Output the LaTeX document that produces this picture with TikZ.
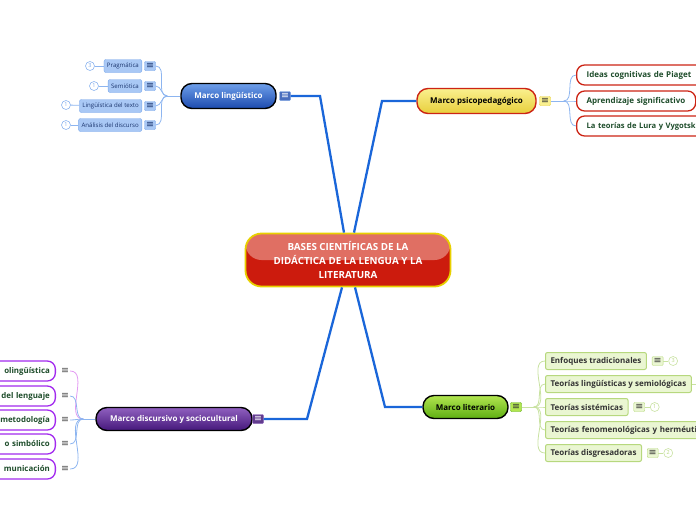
\documentclass[tikz,border=0pt]{standalone}
\usepackage{fontspec}
\setmainfont{Open Sans}
\newfontfamily\simbolos{DejaVu Sans}
\usetikzlibrary{positioning, calc}

% Colores del mapa
\definecolor{azulrama}{HTML}{1A66D9}
\definecolor{rojo}{HTML}{CC1B0D}
\definecolor{rojoclaro}{HTML}{E06F63}
\definecolor{amarillo}{HTML}{E8D000}
\definecolor{azulclaro}{HTML}{6E9FEA}
\definecolor{azuloscuro}{HTML}{1C4AAE}
\definecolor{azulsub}{HTML}{A9C8F5}
\definecolor{azulborde}{HTML}{78A6EA}
\definecolor{azultexto}{HTML}{1B356E}
\definecolor{azulfino}{HTML}{8DB5F0}
\definecolor{amarilloclaro}{HTML}{FAF08E}
\definecolor{amarillooscuro}{HTML}{E8CF3C}
\definecolor{rojoborde}{HTML}{CC2414}
\definecolor{verdetexto}{HTML}{1E4D2B}
\definecolor{moradoclaro}{HTML}{9060C0}
\definecolor{moradooscuro}{HTML}{45187A}
\definecolor{moradoborde}{HTML}{A22AEE}
\definecolor{rosafino}{HTML}{E39AF2}
\definecolor{verdeclaro}{HTML}{B2E650}
\definecolor{verdeoscuro}{HTML}{5EAE12}
\definecolor{verdesub}{HTML}{EAF6D2}
\definecolor{verdeborde}{HTML}{B7D87E}
\definecolor{verdefino}{HTML}{C9E2A2}
\definecolor{grisicono}{HTML}{4A4A4A}

\begin{document}
\begin{tikzpicture}[x=1pt, y=-1pt,
    rama/.style={draw=azulrama, line width=2.3pt},
    central/.style={rounded corners=16pt, draw=amarillo, line width=1.8pt, fill=rojo,
      text=white, align=center, minimum width=205pt, minimum height=53pt, inner sep=2pt,
      font=\bfseries\fontsize{9.8}{14}\selectfont,
      path picture={\fill[rojoclaro] (path picture bounding box.north west) rectangle (path picture bounding box.east);}},
    tema/.style={rounded corners=11pt, line width=1.4pt, minimum height=25pt, inner xsep=0pt,
      font=\bfseries\fontsize{8}{9}\selectfont},
    icono/.style={draw, rounded corners=1pt, minimum width=11pt, minimum height=9pt, inner sep=0pt,
      font=\simbolos\fontsize{9.5}{9}\selectfont},
    numero/.style={circle, draw, fill=white, minimum size=9pt, inner sep=0pt, line width=0.6pt,
      font=\fontsize{5.5}{5}\selectfont},
    subl/.style={draw=azulborde, fill=azulsub, rounded corners=2pt, minimum height=13pt,
      inner xsep=3pt, inner ysep=0pt, text=azultexto, font=\fontsize{6.1}{6}\selectfont, anchor=east},
    subp/.style={draw=rojoborde, fill=white, rounded corners=8pt, line width=1.3pt, minimum height=20pt,
      inner xsep=10pt, inner ysep=0pt, text=verdetexto, align=left, anchor=west,
      font=\bfseries\fontsize{8}{8}\selectfont},
    subd/.style={draw=moradoborde, fill=white, rounded corners=8pt, line width=1.3pt, minimum height=20pt,
      inner xsep=5.5pt, inner ysep=0pt, text=verdetexto, align=right, text width=80pt, anchor=east,
      font=\bfseries\fontsize{7.9}{8}\selectfont},
    subv/.style={draw=verdeborde, fill=verdesub, rounded corners=2pt, line width=1pt, minimum height=17pt,
      inner xsep=5pt, inner ysep=0pt, text=black!80, align=left, anchor=west,
      font=\bfseries\fontsize{8}{8}\selectfont},
    finol/.style={draw=azulfino, line width=0.8pt},
    finov/.style={draw=verdefino, line width=0.8pt},
  ]
  \useasboundingbox (0,0) rectangle (696,520);
  \clip (0,0) rectangle (696,520);

  % --- 1. TEMA CENTRAL ---
  \node[central] (bases) at (348,260) {BASES CIENTÍFICAS DE LA\\DIDÁCTICA DE LA LENGUA Y LA\\LITERATURA};

  % --- 2. TEMAS PRINCIPALES ---
  \node[tema, draw=black, top color=azulclaro, bottom color=azuloscuro, text=white, minimum width=95pt]
    (ling) at (228.5,96) {Marco lingüístico};
  \node[icono, draw=azulborde, fill=azuloscuro!80, text=white] (lingI) at (285,96) {≡};

  \node[tema, draw=rojoborde, top color=amarilloclaro, bottom color=amarillooscuro, text=black, minimum width=119pt]
    (psico) at (476.5,101) {Marco psicopedagógico};
  \node[icono, draw=amarillooscuro, fill=amarilloclaro, text=black!80] (psicoI) at (545,101) {≡};

  \node[tema, draw=black, top color=moradoclaro, bottom color=moradooscuro, text=white, minimum width=156pt, minimum height=23pt]
    (disc) at (174,419) {Marco discursivo y sociocultural};
  \node[icono, draw=moradoclaro, fill=moradooscuro!85, text=white] (discI) at (258,419) {≡};

  \node[tema, draw=black, top color=verdeclaro, bottom color=verdeoscuro, text=black, minimum width=85pt, minimum height=23pt]
    (lit) at (465.5,407) {Marco literario};
  \node[icono, draw=verdeoscuro, fill=verdeclaro, text=black!80] (litI) at (516,407) {≡};

  % Ramas azules desde el centro
  \coordinate (c1) at ($(bases.north)+(-4,0)$);
  \coordinate (c2) at ($(bases.north)+(6,0)$);
  \coordinate (c3) at ($(bases.south)+(-6,0)$);
  \coordinate (c4) at ($(bases.south)+(7,0)$);
  \draw[rama] (c1) -- (320,96) -- (lingI.east);
  \draw[rama] (c2) -- (382,101) -- (psico.west);
  \draw[rama] (c3) -- (307,419) -- (discI.east);
  \draw[rama] (c4) -- (385,407) -- (lit.west);

  % --- 3. MARCO LINGÜÍSTICO ---
  \node[subl] (l1) at (142,66) {Pragmática};
  \node[subl] (l2) at (142,86) {Semiótica};
  \node[subl] (l3) at (142,106) {Lingüística del texto};
  \node[subl] (l4) at (142,125) {Análisis del discurso};
  \foreach \n/\y in {l1/66, l2/86, l3/106, l4/125}
    \node[icono, draw=azulborde, fill=azulsub, text=azultexto] (\n I) at (150,\y) {≡};
  \node[numero, draw=azulfino, text=azulborde] (n1) at (90,66) {3};
  \node[numero, draw=azulfino, text=azulborde] (n2) at (94,86) {1};
  \node[numero, draw=azulfino, text=azulborde] (n3) at (66,105) {1};
  \node[numero, draw=azulfino, text=azulborde] (n4) at (66,125) {1};
  \foreach \c/\n in {n1/l1, n2/l2, n3/l3, n4/l4}
    \draw[finol] (\c) -- (\n);
  \coordinate (jl) at ($(ling.west)+(-13,0)$);
  \draw[finol] (ling.west) -- (jl);
  \foreach \n in {l1,l2,l3,l4}
    \draw[finol] (jl) to[out=180, in=0] (\n I.east);

  % --- 4. MARCO PSICOPEDAGÓGICO ---
  \node[subp, text width=140pt] (p1) at (576,75) {Ideas cognitivas de Piaget};
  \node[subp, text width=99pt] (p2) at (576,101) {\mbox{Aprendizaje significativo}};
  \node[subp, text width=140pt, font=\bfseries\fontsize{7.6}{8}\selectfont] (p3) at (576,126) {La teorías de Lura y Vygotsk};
  \coordinate (jp) at ($(psicoI.east)+(13,0)$);
  \draw[finol] (psicoI.east) -- (jp);
  \foreach \n in {p1,p2,p3}
    \draw[finol] (jp) to[out=0, in=180] (\n.west);

  % --- 5. MARCO DISCURSIVO Y SOCIOCULTURAL ---
  \foreach \n/\y/\t in {d1/371/olingüística, d2/396/del lenguaje, d3/420/metodología,
                        d4/444/o simbólico, d5/469/municación} {
    \node[subd] (\n) at (56,\y) {\t};
    \node[text=grisicono, font=\simbolos\fontsize{9.5}{9}\selectfont, inner sep=1pt] (\n I) at (65,\y) {≡};
  }
  \coordinate (jd) at ($(disc.west)+(-12,0)$);
  \draw[finol] (disc.west) -- (jd);
  \draw[draw=rosafino, line width=0.8pt] (jd) to[out=180, in=0] (d1I.east);
  \foreach \n in {d2,d3,d4,d5}
    \draw[finol] (jd) to[out=180, in=0] (\n I.east);

  % --- 6. MARCO LITERARIO ---
  \node[subv] (v1) at (545,361) {Enfoques tradicionales};
  \node[subv] (v2) at (545,384) {Teorías lingüísticas y semiológicas};
  \node[subv] (v3) at (545,407) {Teorías sistémicas};
  \node[subv, text width=160pt] (v4) at (545,430) {Teorías fenomenológicas y herméuti};
  \node[subv] (v5) at (545,453) {Teorías disgresadoras};
  \foreach \n in {v1,v3,v5}
    \node[icono, draw=verdeborde, fill=verdesub, text=black!80, anchor=west] (\n I) at ($(\n.east)+(5,0)$) {≡};
  \foreach \n/\k in {v1/3, v3/1, v5/2} {
    \node[numero, draw=verdefino, text=verdeborde, anchor=west] (\n N) at ($(\n I.east)+(5,0)$) {\k};
    \draw[finov] (\n I) -- (\n N);
  }
  \coordinate (v2fin) at ($(v2.east)+(10,0)$);
  \draw[finov] (v2) -- (v2fin);
  \coordinate (jv) at ($(litI.east)+(12,0)$);
  \draw[finov] (litI.east) -- (jv);
  \foreach \n in {v1,v2,v3,v4,v5}
    \draw[finov] (jv) to[out=0, in=180] (\n.west);
\end{tikzpicture}
\end{document}
